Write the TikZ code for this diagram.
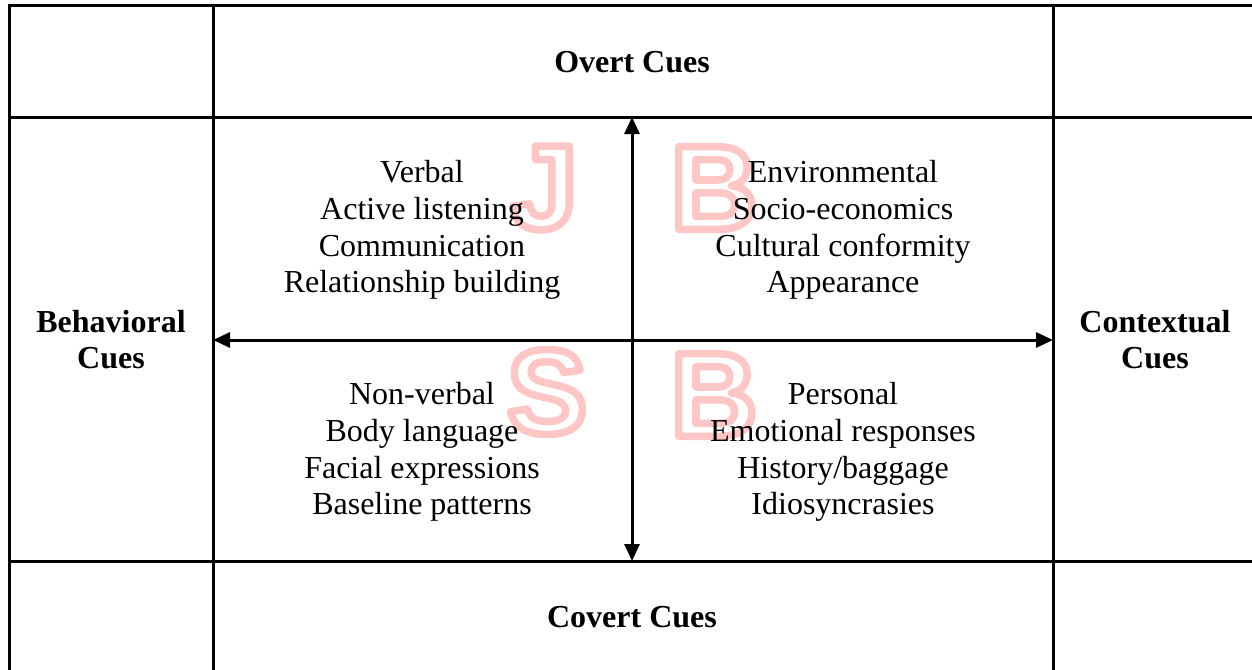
\documentclass[tikz,border=0pt]{standalone}
\usepackage{fontspec}
\setmainfont{Liberation Serif}
\newfontfamily\wmfont{Liberation Sans}
\usetikzlibrary{arrows.meta}
\definecolor{wmpink}{RGB}{255,198,198}
% outline-only glyphs through the pdf text render mode
\newcommand\wmoutline{\special{pdf:literal direct 1 Tr 7.5 w 1 j}}

\tikzset{
  grid line/.style={line width=3pt},
  cue arrow/.style={line width=3pt,
    {Triangle[length=17pt,width=15pt]}-{Triangle[length=17pt,width=15pt]}},
  cue list/.style={align=center,inner sep=0pt,font=\fontsize{32}{36.8}\selectfont},
  cue head/.style={align=center,inner sep=0pt,font=\fontsize{32}{36}\selectfont\bfseries},
  wm letter/.style={inner sep=0pt,text=wmpink,font=\fontsize{120}{120}\selectfont\wmfont\bfseries},
}

\begin{document}
\begin{tikzpicture}[x=1pt,y=-1pt]
          \useasboundingbox (0,0) rectangle (1252,669);
          % watermark letters
          \foreach \ch/\px/\py/\nm in {J/544/188/wmj,B/714/188/wmb,S/547/392/wms,B/714/395/wmbb}
            \node[wm letter] (\nm) at (\px,\py) {\wmoutline\ch};
          \path[coordinate] (9,6) coordinate (tl)
            (1257,673) coordinate (br)
            (632,117) coordinate (ov)
            (632,561) coordinate (cv)
            (213,340) coordinate (bh)
            (1053,340) coordinate (ch);
          \draw[grid line] (tl) rectangle (br);
          \draw[grid line] (213,6) -- (213,673) (1053,6) -- (1053,673)
            (9,117) -- (1257,117) (9,561) -- (1257,561);
          \draw[cue arrow] (ov) -- (cv);
          \draw[cue arrow] (bh) -- (ch);
          \node[cue head] (overt) at (632,62) {Overt Cues};
          \node[cue head] (covert) at (632,617) {Covert Cues};
          \node[cue head] (behav) at (111,340) {Behavioral\\Cues};
          \node[cue head] (context) at (1155,340) {Contextual\\Cues};
          \node[cue list] (verbal) at (422,230)
            {Verbal\\Active listening\\Communication\\Relationship building};
          \node[cue list] (environ) at (843,230)
            {Environmental\\Socio-economics\\Cultural conformity\\Appearance};
          \node[cue list] (nonverbal) at (422,452)
            {Non-verbal\\Body language\\Facial expressions\\Baseline patterns};
          \node[cue list] (personal) at (843,452)
            {Personal\\Emotional responses\\History/baggage\\Idiosyncrasies};
        \end{tikzpicture}
\end{document}
